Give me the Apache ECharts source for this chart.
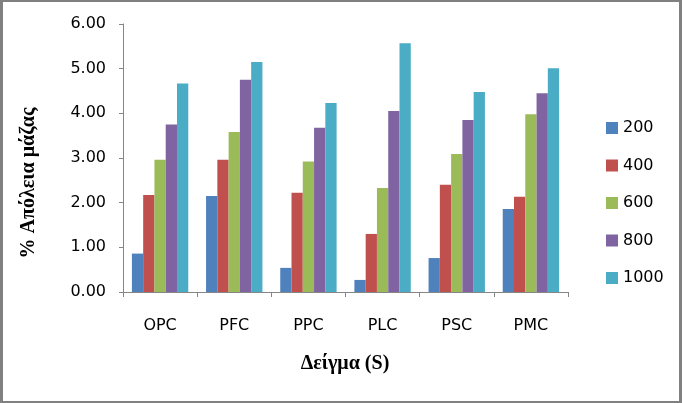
<!DOCTYPE html>
<html>
<head>
<meta charset="utf-8">
<script src="https://cdn.jsdelivr.net/npm/echarts@6/dist/echarts.min.js"></script>
<style>
html,body{margin:0;padding:0;background:#fff;}
#wrap{position:relative;width:682px;height:403px;}
#chart{position:absolute;left:0;top:0;width:682px;height:403px;}
#frame{position:absolute;left:0;top:0;width:682px;height:403px;box-sizing:border-box;border-style:solid;border-color:#808080;border-width:2px 3px 2px 3px;pointer-events:none;}
</style>
</head>
<body>
<div id="wrap"><div id="chart"></div><div id="frame"></div></div>
<script>
var categories = ['OPC', 'PFC', 'PPC', 'PLC', 'PSC', 'PMC'];
var seriesNames = ['200', '400', '600', '800', '1000'];
var s200 = [0.86, 2.15, 0.54, 0.27, 0.76, 1.86];
var s400 = [2.17, 2.96, 2.22, 1.30, 2.40, 2.13];
var s600 = [2.96, 3.58, 2.92, 2.33, 3.09, 3.98];
var s800 = [3.75, 4.75, 3.68, 4.05, 3.85, 4.45];
var s1000 = [4.67, 5.15, 4.23, 5.57, 4.48, 5.01];
var yTicks = [0, 1, 2, 3, 4, 5, 6];
var colors = ['#4F81BD', '#C0504D', '#9BBB59', '#8064A2', '#4BACC6'];
var allData = [s200, s400, s600, s800, s1000];

var chart = echarts.init(document.getElementById('chart'), null, {renderer: 'canvas'});
var series = seriesNames.map(function (n, i) {
  return {
    name: n,
    type: 'bar',
    data: allData[i],
    barGap: '0%',
    barCategoryGap: '24%',
    itemStyle: {color: colors[i]},
    emphasis: {disabled: true}
  };
});
chart.setOption({
  animation: false,
  color: colors,
  grid: {left: 123, right: 114, top: 24, bottom: 111, containLabel: false},
  legend: {
    orient: 'vertical',
    left: 601,
    top: 115,
    itemWidth: 12,
    itemHeight: 12,
    itemGap: 21.5,
    itemTextGap: 5,
    icon: 'rect',
    textStyle: {fontFamily: 'DejaVu Sans', fontSize: 16, lineHeight: 16, color: '#000'},
    data: seriesNames
  },
  xAxis: {
    type: 'category',
    data: categories,
    axisLine: {lineStyle: {color: '#868686', width: 1}},
    axisTick: {show: true, length: 5, alignWithLabel: false, lineStyle: {color: '#868686'}},
    axisLabel: {margin: 26, fontFamily: 'DejaVu Sans', fontSize: 16, color: '#000'},
    splitLine: {show: false}
  },
  yAxis: {
    type: 'value',
    min: yTicks[0],
    max: yTicks[yTicks.length - 1],
    interval: 1,
    axisLine: {show: true, lineStyle: {color: '#868686', width: 1}},
    axisTick: {show: true, length: 4, inside: false, lineStyle: {color: '#868686'}},
    axisLabel: {margin: 17, fontFamily: 'DejaVu Sans', fontSize: 16, color: '#000',
      formatter: function (v) { return v.toFixed(2); }},
    splitLine: {show: false}
  },
  graphic: [
    {
      type: 'text',
      x: 29, y: 183,
      rotation: Math.PI / 2,
      style: {
        text: '% Απόλεια μάζας',
        font: 'bold 20px "Liberation Serif"',
        fill: '#000',
        align: 'center',
        verticalAlign: 'middle'
      }
    },
    {
      type: 'text',
      x: 345, y: 364,
      style: {
        text: 'Δείγμα (S)',
        font: 'bold 20px "Liberation Serif"',
        fill: '#000',
        align: 'center',
        verticalAlign: 'middle'
      }
    }
  ],
  series: series
});
</script>
</body>
</html>
